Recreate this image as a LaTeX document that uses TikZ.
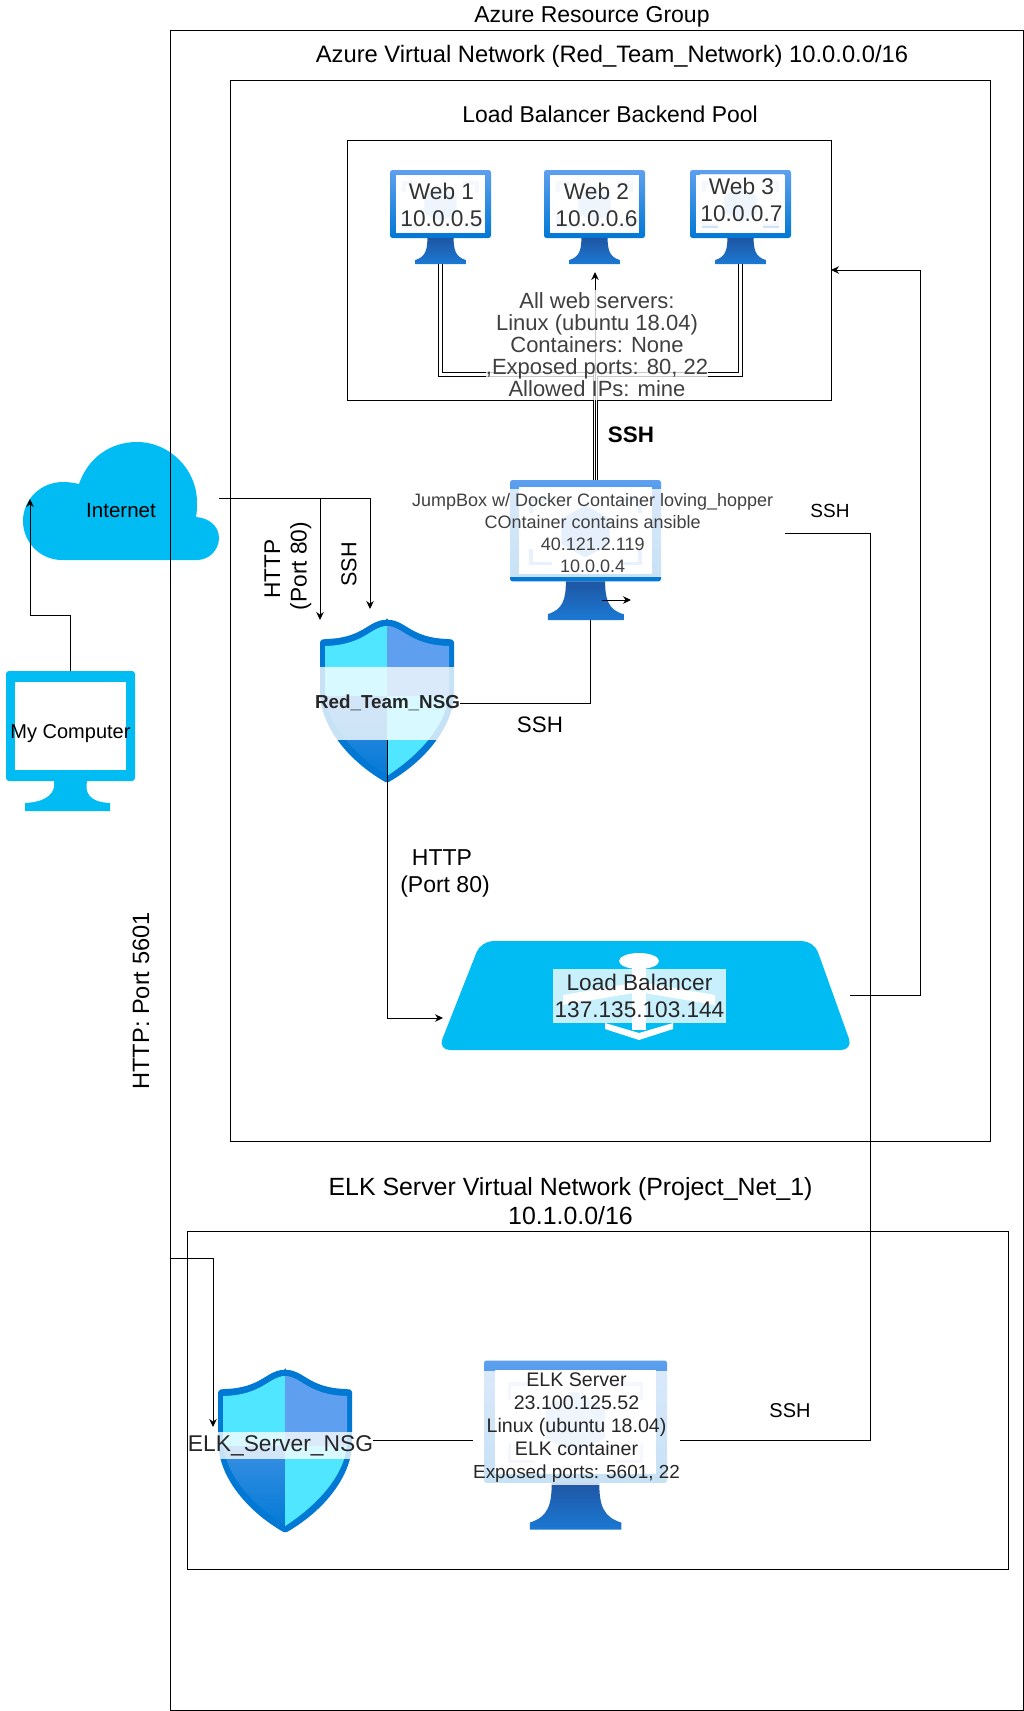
\documentclass[tikz,border=0pt]{standalone}
\usepackage{fontspec}
\setmainfont{Liberation Sans}
\usetikzlibrary{arrows.meta, positioning}
\definecolor{cloudblue}{HTML}{00bcf2}
\definecolor{azureblue}{HTML}{0078d4}
\definecolor{skyblue}{HTML}{50e6ff}
\definecolor{midblue}{HTML}{5ea0ef}
\definecolor{standtop}{HTML}{1f56a3}
\definecolor{standbot}{HTML}{1b79d4}
\definecolor{palebracket}{HTML}{cfe3f8}
\definecolor{palecube}{HTML}{b5d4f5}
\tikzset{
	fs/.style 2 args={font=\fontsize{#1}{#2}\selectfont},
	framebox/.style={draw=black, line width=1pt, inner sep=0pt, outer sep=0pt},
	iconbox/.style={inner sep=0pt, outer sep=0pt},
	labelbg/.style={fill=white, fill opacity=.78, text opacity=1, inner sep=0pt, outer sep=0pt, align=center},
	plaintext/.style={inner sep=0pt, outer sep=0pt, align=center},
	link/.style={draw=black, line width=1pt},
	arrowlink/.style={link, -{Stealth[length=8pt,width=7.5pt]}},
	doublelink/.style={draw=black, line width=1pt, double=white, double distance=3pt},
	vmicon/.pic={
		\path[rounded corners=2.5pt, top color=midblue, bottom color=azureblue] (-50,0) rectangle (50,68);
		\fill[white] (-44,5) rectangle (44,63);
		\draw[palebracket, line width=3.5pt] (-22,13) -- (-36,13) -- (-36,22);
		\draw[palebracket, line width=3.5pt] (22,13) -- (36,13) -- (36,22);
		\draw[palebracket, line width=3.5pt] (-22,56) -- (-36,56) -- (-36,46);
		\draw[palebracket, line width=3.5pt] (22,56) -- (36,56) -- (36,46);
		\fill[palecube] (0,17) -- (16,26) -- (16,43) -- (0,52) -- (-16,43) -- (-16,26) -- cycle;
		\path[top color=standtop, bottom color=standbot] (-13,68) -- (13,68) .. controls (13,80) and (15,87) .. (25,90) -- (25,94) -- (-25,94) -- (-25,90) .. controls (-15,87) and (-13,80) .. (-13,68) -- cycle;
	},
	shieldicon/.pic={
		\fill[azureblue, rounded corners=2pt] (0,0) .. controls (18,0) and (24,18) .. (62,19) -- (67,20) -- (67,70) .. controls (67,105) and (40,140) .. (0,163) .. controls (-40,140) and (-67,105) .. (-67,70) -- (-67,20) -- (-62,19) .. controls (-24,18) and (-18,0) .. (0,0) -- cycle;
		\begin{scope}
			\clip (0,6) .. controls (16,6) and (22,25) .. (62,26) -- (62,70) .. controls (62,102) and (35,133) .. (0,156) .. controls (-35,133) and (-62,102) .. (-62,70) -- (-62,26) .. controls (-22,25) and (-16,6) .. (0,6) -- cycle;
			\fill[skyblue] (-67,0) rectangle (0,76);
			\fill[midblue] (0,0) rectangle (67,76);
			\path[top color=midblue!60!azureblue, bottom color=azureblue] (-67,76) rectangle (0,163);
			\fill[skyblue] (0,76) rectangle (67,163);
		\end{scope}
	}
}
\begin{document}
\begin{tikzpicture}[x=1pt,y=-1pt]
	\useasboundingbox (0,0) rectangle (1024,1711);

	\node[iconbox, minimum width=196pt, minimum height=124pt] (internet) at (121,498) {};
	\fill[cloudblue] (62,560) .. controls (40,560) and (23,542) .. (23,521) .. controls (23,499) and (41,482) .. (63,482) .. controls (69,482) and (75,483) .. (79,484) .. controls (88,458) and (110,442) .. (137,442) .. controls (170,442) and (197,470) .. (197,502) .. controls (197,507) and (197,512) .. (196,517) .. controls (209,518) and (219,526) .. (219,538) .. controls (219,550) and (209,560) .. (197,560) -- cycle;

	\node[framebox, minimum width=853pt, minimum height=1679.5pt] (azuregroup) at (596.5,870.25) {};
	\node[framebox, minimum width=760pt, minimum height=1061pt] (vnet) at (610,610.5) {};
	\node[framebox, minimum width=484pt, minimum height=260pt] (pool) at (589,270) {};
	\node[framebox, minimum width=821pt, minimum height=338pt] (elknet) at (597.5,1400) {};

	\node[iconbox, minimum width=129pt, minimum height=140pt] (mycomputer) at (70.5,741) {};
	\fill[cloudblue, rounded corners=3pt] (6,671) rectangle (135,781);
	\fill[white] (15,682) rectangle (126,770);
	\fill[cloudblue] (54,781) -- (87,781) .. controls (85,792) and (88,802) .. (110,803) -- (110,811) -- (25,811) -- (25,803) .. controls (48,802) and (56,792) .. (54,781) -- cycle;

	\node[iconbox, minimum width=101pt, minimum height=94pt] (web1) at (440.5,217) {};
	\node[iconbox, minimum width=101pt, minimum height=94pt] (web2) at (594.5,217) {};
	\node[iconbox, minimum width=101pt, minimum height=94pt] (web3) at (740.5,217) {};
	\node[iconbox, minimum width=151pt, minimum height=140pt] (jumpvm) at (585.5,550) {};
	\node[iconbox, minimum width=183pt, minimum height=169pt] (elkvm) at (575.5,1445) {};
	\pic[xscale=1.01] at (web1.north) {vmicon};
	\pic[xscale=1.01] at (web2.north) {vmicon};
	\pic[xscale=1.01] at (web3.north) {vmicon};
	\pic[xscale=1.83, yscale=1.8] at (elkvm.north) {vmicon};
	\colorlet{palebracket}{midblue!60!white}
	\colorlet{palecube}{midblue!70!white}
	\pic[xscale=1.51, yscale=1.49] at (jumpvm.north) {vmicon};

	\node[iconbox, minimum width=134pt, minimum height=163pt] (redshield) at (387,701.5) {};
	\node[iconbox, minimum width=134pt, minimum height=163pt] (elkshield) at (285.2,1451.5) {};
	\pic at (redshield.north) {shieldicon};
	\pic at (elkshield.north) {shieldicon};

	\node[iconbox, minimum width=409pt, minimum height=109pt] (balancer) at (645.5,995.5) {};
	\fill[cloudblue, rounded corners=12pt] (481,941) -- (814,941) -- (853,1050) -- (438,1050) -- cycle;
	\fill[white] (639,961) ellipse (20 and 8);
	\fill[white] (632,965) rectangle (646,1030);
	\fill[white] (639,982) -- (715,995) -- (715,1005) -- (639,992) -- (563,1005) -- (563,995) -- cycle;
	\fill[white] (605,1023) -- (639,1033) -- (673,1023) -- (673,1029) -- (639,1040) -- (605,1029) -- cycle;

	\coordinate (jumpin) at (595,480);
	\coordinate (web2in) at (595,272);
	\coordinate (poolrow) at (0,374);
	\coordinate (sshin) at (370,609);
	\coordinate (balancerin) at (443,1018);
	\coordinate (sshturn) at (870,1440);
	\coordinate (standout) at (602,600);
	\coordinate (standend) at (631,600);
	\coordinate (elkgroupout) at (170,1258);
	\coordinate (elkin) at (213,1427);
	\coordinate (cloudin) at (30,499);
	\coordinate (cloudturn) at (70.5,615);

	\draw[doublelink] (web1.south) -- (web1.south |- poolrow) -| (jumpin);
	\draw[doublelink] (web3.south) -- (web3.south |- poolrow) -| (jumpin);
	\draw[arrowlink] (jumpin) -- (web2in);
	\draw[arrowlink] (standout) -- (standend);
	\draw[arrowlink] (mycomputer.north) -- (cloudturn) -| (cloudin);
	\draw[arrowlink] (internet.east) -| (redshield.north west);
	\draw[arrowlink] (internet.east) -| (sshin);
	\draw[arrowlink] (balancer.east) -- (920.5,995.5) |- (pool.east);
	\draw[arrowlink] (elkgroupout) -| (elkin);

	\node[labelbg, fs={22}{22}, text=black!75, minimum width=221pt, minimum height=110pt] (poollabel) at (597,345) {All web servers:\\Linux (ubuntu 18.04)\\Containers: None\\,Exposed ports: 80, 22\\Allowed IPs: mine};
	\node[labelbg, fs={22.7}{26.7}, text=black!80, minimum width=84pt, minimum height=52pt] (web1label) at (441.5,205) {Web 1\\10.0.0.5};
	\node[labelbg, fs={22.7}{26.7}, text=black!80, minimum width=84pt, minimum height=52pt] (web2label) at (596.5,205) {Web 2\\10.0.0.6};
	\node[labelbg, fs={22.7}{26.7}, text=black!80, minimum width=84pt, minimum height=52pt] (web3label) at (741.5,200) {Web 3\\10.0.0.7};
	\node[labelbg, fs={18}{22}, text=black!75, minimum width=385pt, minimum height=88pt] (jumplabel) at (592.7,533) {JumpBox w/ Docker Container loving\_hopper\\COntainer contains ansible\\40.121.2.119\\10.0.0.4};
	\node[labelbg, fs={19.6}{23}, text=black!85, minimum width=205pt, minimum height=114pt] (elklabel) at (576.5,1427.5) {ELK Server\\23.100.125.52\\Linux (ubuntu 18.04)\\ELK container\\{\fontsize{18.9}{23}\selectfont Exposed ports: 5601, 22}};
	\node[labelbg, fs={18.8}{22}, font=\bfseries\fontsize{18.8}{22}\selectfont, text=black!85, minimum width=145pt, minimum height=73pt] (rednsg) at (387.5,703) {Red\_Team\_NSG};
	\node[labelbg, fs={22.8}{27}, text=black!85, minimum height=27pt] (elknsg) at (280.5,1445.5) {ELK\_Server\_NSG};
	\node[labelbg, fs={22.6}{26.5}, text=black!85, minimum width=173pt, minimum height=54pt] (balancerlabel) at (639.5,996) {Load Balancer\\137.135.103.144};

	\draw[link] (jumplabel.east) -| (sshturn) -- (elklabel.east |- sshturn);
	\draw[link] (elknsg.east |- sshturn) -- (elklabel.west |- sshturn);
	\draw[link] (rednsg.east) -| ([xshift=5pt]jumpvm.south);
	\draw[arrowlink] (rednsg.south) |- (balancerin);

	\node[plaintext, fs={20.5}{24}] (internetlabel) at (121,510.5) {Internet};
	\node[plaintext, fs={20}{24}] (mycomputerlabel) at (70.5,733.5) {My Computer};
	\node[plaintext, fs={23}{27}] (grouptitle) at (592,17) {Azure Resource Group};
	\node[plaintext, fs={23.75}{28}] (vnettitle) at (612,56.5) {Azure Virtual Network (Red\_Team\_Network) 10.0.0.0/16};
	\node[plaintext, fs={22.9}{27}] (pooltitle) at (610,114.6) {Load Balancer Backend Pool};
	\node[plaintext, fs={24.9}{28.5}] (elktitle) at (570.5,1201) {ELK Server Virtual Network (Project\_Net\_1)\\10.1.0.0/16};
	\node[plaintext, fs={22.4}{27}, font=\bfseries\fontsize{22.4}{27}\selectfont] (sshbold) at (631,434.5) {SSH};
	\node[plaintext, fs={19}{23}] (sshjump) at (830,511) {SSH};
	\node[plaintext, fs={22.4}{27}] (sshnsg) at (540,725) {SSH};
	\node[plaintext, fs={20}{24}] (sshelk) at (790,1410.5) {SSH};
	\node[plaintext, fs={23}{27}] (httplabel) at (445,873) {HTTP\hspace*{6pt}\\(Port 80)};
	\node[plaintext, fs={22.7}{26.5}, rotate=90] (httprot) at (288,566) {HTTP\hspace*{6pt}\\(Port 80)};
	\node[plaintext, fs={21.6}{26}, rotate=90] (sshrot) at (349,564.5) {SSH};
	\node[plaintext, fs={23.6}{28}, rotate=90] (portlabel) at (141,1001) {HTTP: Port 5601};
\end{tikzpicture}
\end{document}
